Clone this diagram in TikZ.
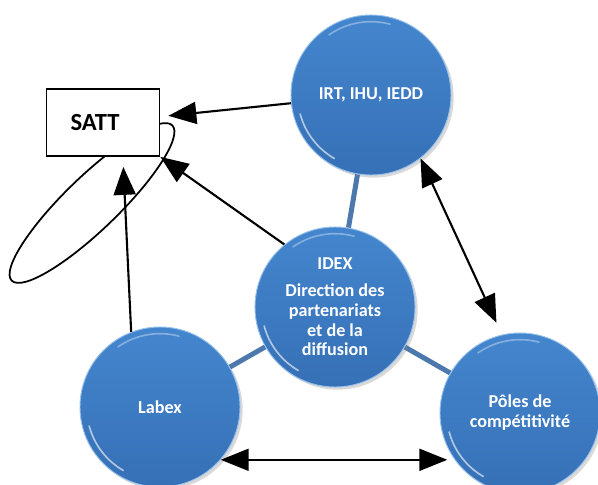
\documentclass[tikz,border=0pt]{standalone}
\usepackage{fontspec}
\setmainfont{Carlito}
\usepackage{xcolor}
\usetikzlibrary{positioning,arrows.meta,shapes.geometric,shadows,backgrounds}
\definecolor{bulle}{RGB}{68,134,206}
\definecolor{bulleb}{RGB}{54,112,182}
\definecolor{bord}{RGB}{150,192,236}
\definecolor{liaison}{RGB}{76,120,172}

\begin{document}
\begin{tikzpicture}[x=0.3mm,y=-0.3mm,
  bulle/.style={circle,minimum size=48mm,inner sep=0pt,top color=bulle,bottom color=bulleb,draw=bord,line width=0.8pt,
    drop shadow={opacity=0.3,shadow xshift=0.8mm,shadow yshift=-0.8mm},text=white,align=center,
    font=\fontsize{15.5}{17}\selectfont\bfseries},
  reflet/.style={white,opacity=0.6,line width=1.4pt,line cap=round},
  fleche/.style={line width=1.8pt,-{Triangle[length=8.4mm,width=6.6mm]}},
  bifleche/.style={line width=1.8pt,{Triangle[length=8.4mm,width=6.6mm]}-{Triangle[length=8.4mm,width=6.6mm]}},
  liaison/.style={draw=liaison,line width=1.5mm}]
\useasboundingbox (0,0) rectangle (598,484);
\node[bulle] (irt) at (371,95) {IRT, IHU, IEDD};
\node[bulle] (idex) at (335,307) {IDEX\\[2mm]Direction des\\partenariats\\et de la\\diffusion};
\node[bulle] (labex) at (160,407) {Labex};
\node[bulle] (poles) at (520,413) {Pôles de\\compétitivité};
\foreach \b in {irt,idex,labex,poles} {
  \begin{scope}[shift={(\b.center)},x=1mm,y=1mm]
  \draw[reflet] (195:22) arc (195:240:22);
  \draw[reflet,opacity=0.35] (75:22) arc (75:125:22);
  \end{scope}
}
\begin{scope}[on background layer]
\draw[liaison] (idex) -- (irt);
\draw[liaison] (idex) -- (labex);
\draw[liaison] (idex) -- (poles);
\end{scope}
\node[draw,ellipse,line width=1.5pt,minimum width=67mm,minimum height=16mm,inner sep=0pt,rotate=44] (boucle) at (92,203) {};
\node[draw,fill=white,line width=1.5pt,minimum width=33.9mm,minimum height=20.1mm,
  font=\fontsize{21}{24}\selectfont\bfseries] (satt) at (103,122.5) {SATT\hspace*{4.8mm}};
\draw[fleche,shorten >=2.4mm] (irt) -- (satt);
\draw[fleche] (idex.129) -- (satt.south east);
\draw[fleche,shorten >=3mm] (labex.111) -- (satt.-60);
\draw[bifleche,shorten >=3.9mm] (irt.-52) -- (poles.103);
\draw[bifleche,shorten >=1.8mm] (labex.-41) -- (labex.-41 -| poles.214);
\end{tikzpicture}
\end{document}
